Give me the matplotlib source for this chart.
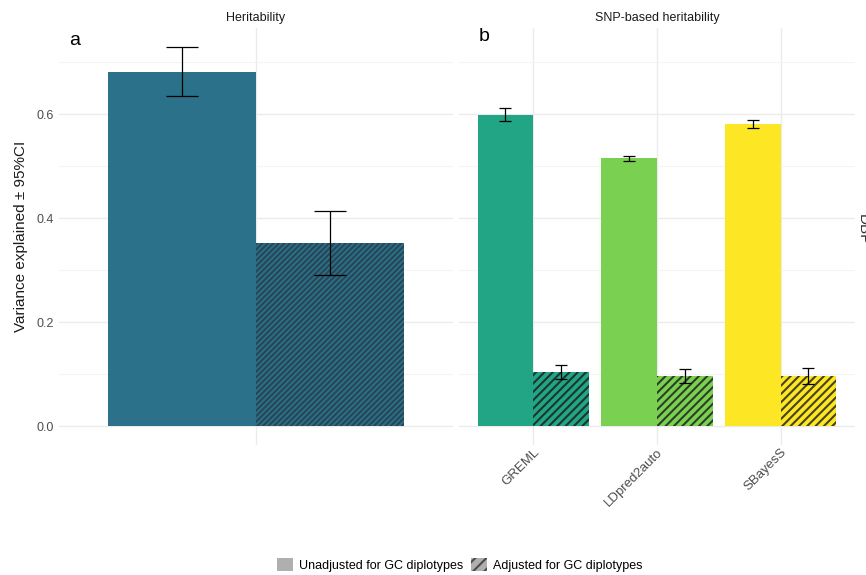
import numpy as np
import matplotlib.pyplot as plt
from matplotlib.patches import Patch

plt.rcParams['font.family'] = ['Liberation Sans', 'DejaVu Sans']
plt.rcParams['hatch.linewidth'] = 1.5

# panel a: heritability (unadjusted, adjusted)
h2_vals = [0.681, 0.352]
h2_lo = [0.635, 0.290]
h2_hi = [0.729, 0.413]

# panel b: SNP-based heritability
methods = ['GREML', 'LDpred2auto', 'SBayesS']
snp_unadj = [0.598, 0.515, 0.581]
snp_unadj_lo = [0.587, 0.510, 0.573]
snp_unadj_hi = [0.611, 0.519, 0.588]
snp_adj = [0.104, 0.096, 0.096]
snp_adj_lo = [0.090, 0.083, 0.081]
snp_adj_hi = [0.117, 0.110, 0.113]

col_a = '#2A7189'
cols_b = ['#22A584', '#7AD151', '#FDE725']
hatch_col = (0.1, 0.1, 0.1, 0.8)
grid_col = '#EBEBEB'
tick_col = '#4D4D4D'

fig = plt.figure(figsize=(8.66, 5.75), dpi=100)
axa = fig.add_axes([0.068, 0.226, 0.455, 0.725])
axb = fig.add_axes([0.530, 0.226, 0.457, 0.725])

ylim = (-0.036, 0.765)
w = 0.45


def style(ax):
    ax.set_ylim(*ylim)
    ax.set_yticks([0, 0.2, 0.4, 0.6])
    ax.set_yticks([0.1, 0.3, 0.5, 0.7], minor=True)
    ax.grid(True, which='major', color=grid_col, lw=1.0)
    ax.grid(True, which='minor', axis='y', color='#F4F4F4', lw=0.8)
    ax.set_axisbelow(True)
    for s in ax.spines.values():
        s.set_visible(False)
    ax.tick_params(which='both', length=0, colors=tick_col, labelsize=9)


# panel a
style(axa)
axa.set_xlim(0.4, 1.6)
axa.bar(1 - w / 2, h2_vals[0], width=w, color=col_a, lw=0)
axa.bar(1 + w / 2, h2_vals[1], width=w, color=col_a, edgecolor=(0.15, 0.22, 0.27, 0.75), hatch='//////', lw=0)
axa.errorbar([1 - w / 2, 1 + w / 2], h2_vals,
             yerr=[np.array(h2_vals) - np.array(h2_lo), np.array(h2_hi) - np.array(h2_vals)],
             fmt='none', ecolor='black', elinewidth=0.9, capsize=11.5, capthick=0.9)
axa.set_xticks([1])
axa.set_xticklabels([''])
axa.set_yticklabels(['0.0', '0.2', '0.4', '0.6'])
axa.set_ylabel('Variance explained ± 95%CI', fontsize=11, color='#1A1A1A', labelpad=6)
axa.set_title('Heritability', fontsize=9, color='#1A1A1A', pad=5)
axa.text(0.025, 0.99, 'a', transform=axa.transAxes, fontsize=14, va='top', ha='left')

# panel b
style(axb)
x = np.arange(1, len(methods) + 1)
axb.set_xlim(0.4, len(methods) + 0.6)
for i in range(len(methods)):
    axb.bar(x[i] - w / 2, snp_unadj[i], width=w, color=cols_b[i], lw=0)
    axb.bar(x[i] + w / 2, snp_adj[i], width=w, color=cols_b[i], edgecolor=hatch_col, hatch='////', lw=0)
axb.errorbar(x - w / 2, snp_unadj,
             yerr=[np.array(snp_unadj) - np.array(snp_unadj_lo), np.array(snp_unadj_hi) - np.array(snp_unadj)],
             fmt='none', ecolor='black', elinewidth=0.9, capsize=4.5, capthick=0.9)
axb.errorbar(x + w / 2, snp_adj,
             yerr=[np.array(snp_adj) - np.array(snp_adj_lo), np.array(snp_adj_hi) - np.array(snp_adj)],
             fmt='none', ecolor='black', elinewidth=0.9, capsize=4, capthick=0.9)
axb.set_xticks(x)
axb.set_xticklabels(methods, rotation=45, ha='right', rotation_mode='anchor', fontsize=9.5)
axb.tick_params(axis='x', pad=1)
axb.set_yticklabels([])
axb.set_title('SNP-based heritability', fontsize=9, color='#1A1A1A', pad=5)
axb.text(0.05, 1.0, 'b', transform=axb.transAxes, fontsize=14, va='top', ha='left')

fig.text(856 / 866, 0.60, 'DBP', rotation=270, fontsize=11, color='#333333', ha='left', va='center')

handles = [Patch(facecolor='#AFAFAF', lw=0),
           Patch(facecolor='#AFAFAF', edgecolor=(0.25, 0.25, 0.25, 0.9), hatch='///', lw=0)]
fig.legend(handles, ['Unadjusted for GC diplotypes', 'Adjusted for GC diplotypes'],
           loc='center', bbox_to_anchor=(0.531, 0.018), ncol=2, frameon=False,
           fontsize=9, handlelength=1.3, handleheight=1.3, handletextpad=0.5, columnspacing=0.6)

fig.savefig('out.png', dpi=100)
